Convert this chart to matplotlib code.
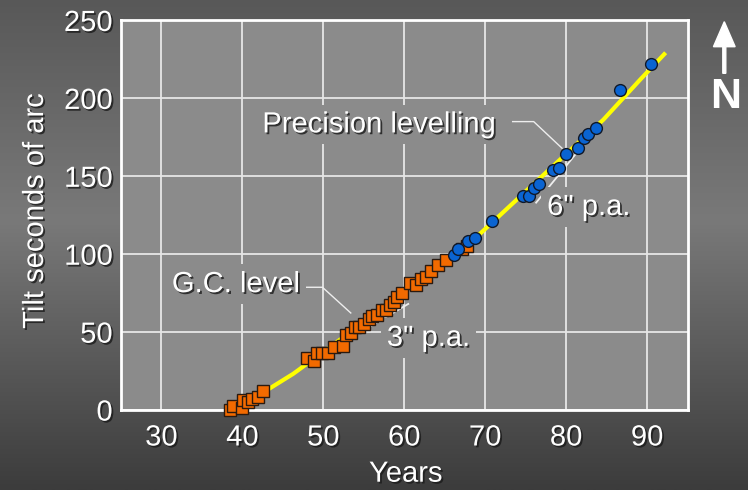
import numpy as np
import matplotlib
matplotlib.use("Agg")
import matplotlib.pyplot as plt
import matplotlib.patheffects as pe
from matplotlib.colors import LinearSegmentedColormap

# ---------------- data ----------------
gc_years = [38.5, 38.9, 39.9, 40.1, 40.7, 41.2, 41.9, 42.5,
            48.0, 48.8, 49.2, 49.9, 50.6, 51.3, 52.4, 52.8, 53.4, 53.9,
            54.4, 55.0, 55.6, 56.0, 56.6, 57.2, 57.7, 58.2, 58.7, 59.1,
            59.7, 60.7, 61.4, 62.1, 62.7, 63.3, 64.2, 65.2, 67.2, 67.7]
gc_tilt = [0, 2, 1, 6, 5, 7, 8, 12,
           33, 31, 36, 36, 36, 40, 41, 48, 49, 53,
           53, 55, 58, 60, 61, 64, 64, 67, 69, 72,
           75, 81, 80, 84, 85, 89, 93, 96, 103, 105]

pl_years = [66.1, 66.6, 67.9, 68.7, 70.9, 74.7, 75.4, 76.0, 76.6,
            78.4, 79.1, 80.0, 81.5, 82.2, 82.7, 83.7, 86.6, 90.5]
pl_tilt = [99, 103, 108, 110, 121, 137, 137, 142, 145,
           154, 155, 164, 168, 174, 177, 181, 205, 222]

curve_years = [38.5, 43.2, 46.3, 55.0, 60.0, 65.0, 69.4, 75.0, 80.0, 84.6, 89.2, 92.3]
curve_tilt = [-1, 13, 23, 56, 76, 96, 113, 140, 164, 186, 212, 229]

x_ticks = [30, 40, 50, 60, 70, 80, 90]
y_ticks = [0, 50, 100, 150, 200, 250]

# ---------------- style ----------------
W, H, DPI = 748, 490, 100
FS = 21
FONT = ["Liberation Sans", "DejaVu Sans"]
plt.rcParams["font.family"] = FONT

PLOT_BG = "#8b8b8b"
GRID = "#e6e6e6"
shadow = [pe.withSimplePatchShadow(offset=(1.3, -1.3), shadow_rgbFace="#1a1a1a", alpha=0.8)]

fig = plt.figure(figsize=(W / DPI, H / DPI), dpi=DPI)

# gradient background
bg = fig.add_axes([0, 0, 1, 1], zorder=-10)
cmap = LinearSegmentedColormap.from_list(
    "bg", [(0.0, "#585858"), (0.45, "#797979"), (1.0, "#3c3c3c")])
grad = np.linspace(0, 1, 256).reshape(-1, 1)
bg.imshow(grad, aspect="auto", cmap=cmap, extent=[0, 1, 0, 1], origin="upper")
bg.set_axis_off()

ax = fig.add_axes([120.9 / W, 1 - 409.6 / H, (687.5 - 120.9) / W, (409.6 - 20) / H])
ax.set_facecolor(PLOT_BG)
ax.set_xlim(25, 95)
ax.set_ylim(0, 250)
ax.set_xticks(x_ticks)
ax.set_yticks(y_ticks)
ax.grid(True, color=GRID, linewidth=1.3, zorder=0)
ax.set_axisbelow(True)
for s in ax.spines.values():
    s.set_color("white")
    s.set_linewidth(2)
ax.tick_params(length=0, labelsize=FS, colors="white")
ax.tick_params(axis="x", pad=10)
ax.tick_params(axis="y", pad=6)
for lab in ax.get_xticklabels() + ax.get_yticklabels():
    lab.set_path_effects(shadow)

# fitted curve
ax.plot(curve_years, curve_tilt, color="#ffff00", linewidth=3, zorder=3,
        solid_capstyle="butt", solid_joinstyle="round", clip_on=False)

# data
ax.plot(gc_years, gc_tilt, linestyle="none", marker="s", markersize=8.5,
        markerfacecolor="#f26a00", markeredgecolor="#2a1a10", markeredgewidth=1.0,
        zorder=4, clip_on=False)
ax.plot(pl_years, pl_tilt, linestyle="none", marker="o", markersize=8.5,
        markerfacecolor="#0a64d2", markeredgecolor="#101828", markeredgewidth=1.0,
        zorder=5, clip_on=False)

# annotation leader lines
LC = "#eeeeee"
ax.plot([47.3, 49.9, 53.4], [78.5, 78.5, 62], color=LC, linewidth=1, zorder=2.5)
ax.plot([73.4, 76.0, 79.5], [184.8, 184.8, 167.7], color=LC, linewidth=1, zorder=2.5)
# rate tangent lines
ax.plot([55.6, 60.5], [52.8, 67.8], color=LC, linewidth=1.3, zorder=2.5)
ax.plot([76.3, 81.1], [132.8, 163.4], color=LC, linewidth=1.3, zorder=2.5)

def label(x, y, s):
    t = ax.text(x, y, s, fontsize=FS, color="white", ha="center", va="center",
                zorder=2.6,
                bbox=dict(boxstyle="square,pad=0.2", facecolor=PLOT_BG, edgecolor="none"))
    t.set_path_effects(shadow)
    return t

label(39.2, 80.5, "G.C. level")
label(56.9, 183.0, "Precision levelling")
label(63.0, 46.0, "3\" p.a.")
label(82.8, 130.0, "6\" p.a.")

# axis titles
t = fig.text(405.8 / W, 1 - 481.7 / H, "Years", fontsize=FS, color="white",
             ha="center", va="baseline")
t.set_path_effects(shadow)
t = fig.text(35 / W, 1 - 211 / H, "Tilt seconds of arc", fontsize=FS, color="white",
             ha="center", va="center", rotation=90)
t.set_path_effects(shadow)

# north arrow
fig.patches.append(matplotlib.patches.FancyArrow(
    724.3 / W, 1 - 73.3 / H, 0, (73.3 - 21.7) / H, width=3 / W,
    head_width=21.7 / W, head_length=25 / H, length_includes_head=True,
    color="white", transform=fig.transFigure, figure=fig))
t = fig.text(726 / W, 1 - 96.7 / H, "N", fontsize=31, fontweight="bold",
             color="white", ha="center", va="center")

fig.savefig("out.png", dpi=DPI)
